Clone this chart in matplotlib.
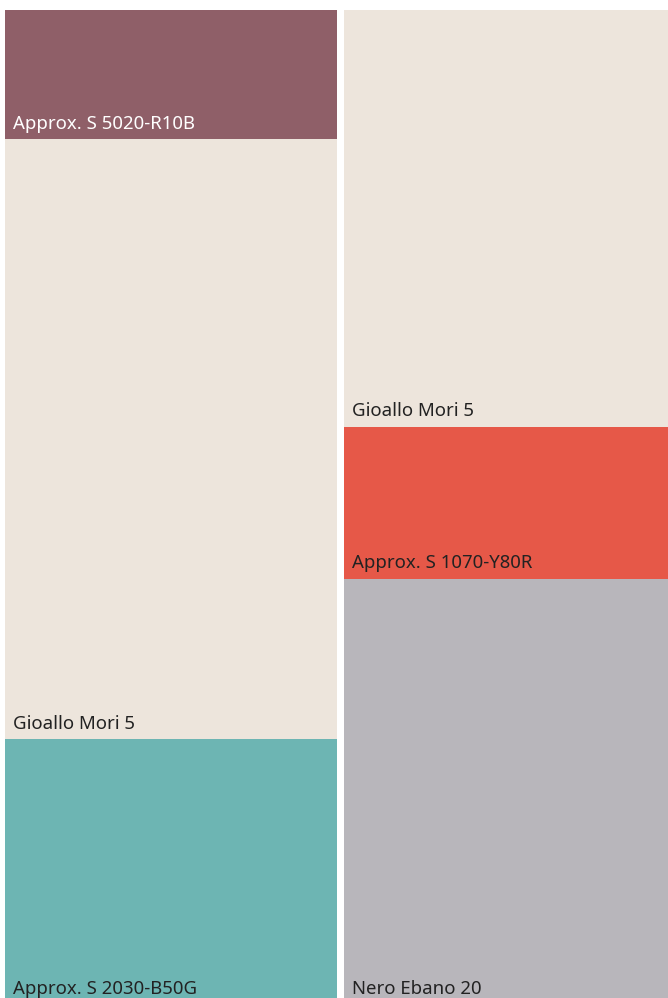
import matplotlib.pyplot as plt

# Palette blocks, top to bottom, heights in pixel units
# (the last block of each column runs a little past the bottom edge)
left_labels = ["Approx. S 5020-R10B", "Gioallo Mori 5", "Approx. S 2030-B50G"]
left_heights = [129, 600, 265]
left_colors = ["#8f5f68", "#ede5dc", "#6db5b3"]
left_text = ["white", "#222222", "#222222"]

right_labels = ["Gioallo Mori 5", "Approx. S 1070-Y80R", "Nero Ebano 20"]
right_heights = [416.5, 152, 425.5]
right_colors = ["#ede5dc", "#e65848", "#b8b6bb"]
right_text = ["#222222", "#222222", "#222222"]

plt.rcParams['font.family'] = ['Noto Sans', 'DejaVu Sans']

fig = plt.figure(figsize=(6.68, 9.98), dpi=100)
ax = fig.add_axes([0, 0, 1, 1])
ax.set_xlim(0, 668)
ax.set_ylim(998, 0)
ax.axis('off')

columns = [
    (5, 332, left_labels, left_heights, left_colors, left_text),
    (344, 324, right_labels, right_heights, right_colors, right_text),
]

for x0, w, labels, heights, colors, tcols in columns:
    top = 10
    for lab, h, c, tc in zip(labels, heights, colors, tcols):
        ax.bar(x0, h, width=w, bottom=top, align='edge', color=c, linewidth=0)
        ax.text(x0 + 8, top + h - 10, lab, color=tc, fontsize=13.4,
                ha='left', va='baseline')
        top += h

fig.savefig("out.png", dpi=100)
